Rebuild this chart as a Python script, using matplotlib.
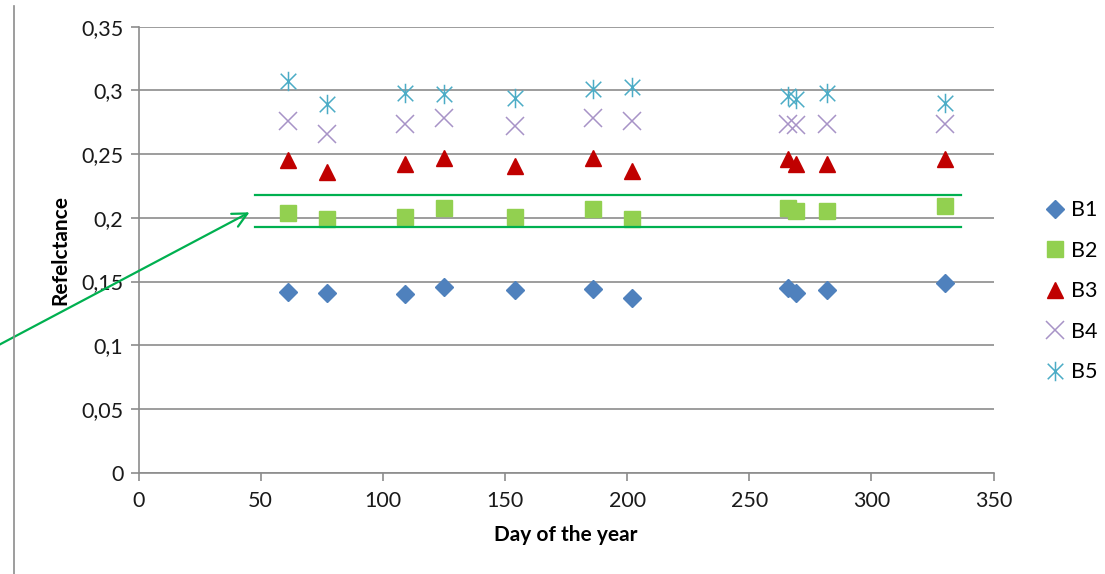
import numpy as np
import matplotlib
matplotlib.use("Agg")
import matplotlib.pyplot as plt
from matplotlib.path import Path
from matplotlib.lines import Line2D

plt.rcParams['font.family'] = ['Lato', 'DejaVu Sans']

# day of year of each acquisition
days = [61, 77, 109, 125, 154, 186, 202, 266, 269, 282, 330]

# reflectance per band
b1 = [0.142, 0.141, 0.140, 0.146, 0.143, 0.144, 0.137, 0.145, 0.141, 0.143, 0.149]
b2 = [0.204, 0.199, 0.201, 0.208, 0.201, 0.207, 0.199, 0.208, 0.205, 0.205, 0.209]
b3 = [0.245, 0.236, 0.242, 0.247, 0.241, 0.247, 0.237, 0.246, 0.242, 0.242, 0.246]
b4 = [0.276, 0.266, 0.274, 0.278, 0.272, 0.278, 0.276, 0.274, 0.273, 0.274, 0.274]
b5 = [0.307, 0.289, 0.298, 0.297, 0.294, 0.301, 0.303, 0.296, 0.293, 0.298, 0.290]

band_names = ['B1', 'B2', 'B3', 'B4', 'B5']
yticks = [0, 0.05, 0.1, 0.15, 0.2, 0.25, 0.3, 0.35]
ytick_labels = ['0', '0,05', '0,1', '0,15', '0,2', '0,25', '0,3', '0,35']
xticks = [0, 50, 100, 150, 200, 250, 300, 350]

# excel style "star" marker: an X with a vertical bar
star = Path([(-1, -1), (1, 1), (-1, 1), (1, -1), (0, -1.25), (0, 1.25)],
            [Path.MOVETO, Path.LINETO, Path.MOVETO, Path.LINETO, Path.MOVETO, Path.LINETO])

fig = plt.figure(figsize=(11.05, 5.74), dpi=100)
ax = fig.add_axes([0.1254, 0.1765, 0.7738, 0.777])

ax.plot(days, b1, ls='none', marker='D', ms=9.5, color='#4F81BD', mec='#4F81BD', label=band_names[0])
ax.plot(days, b2, ls='none', marker='s', ms=11.5, color='#92D050', mec='#92D050', label=band_names[1])
ax.plot(days, b3, ls='none', marker='^', ms=12, color='#C00000', mec='#C00000', label=band_names[2])
ax.plot(days, b4, ls='none', marker='x', ms=13, mew=1.1, color='#A793C7', label=band_names[3])
ax.plot(days, b5, ls='none', marker=star, ms=14, mew=1.1, color='#4BACC6', label=band_names[4])

ax.set_xlim(0, 350)
ax.set_ylim(0, 0.35)
ax.set_xticks(xticks)
ax.set_yticks(yticks)
ax.set_yticklabels(ytick_labels)
ax.yaxis.grid(True, color='#8C8C8C', lw=1.2)
ax.set_axisbelow(True)
for s in ['top', 'right']:
    ax.spines[s].set_visible(False)
for s in ['left', 'bottom']:
    ax.spines[s].set_color('#8C8C8C')
    ax.spines[s].set_linewidth(1.2)
ax.tick_params(axis='both', colors='#8C8C8C', labelcolor='#1a1a1a', labelsize=15.5, length=6, width=1.2)
ax.tick_params(axis='y', pad=5)
ax.tick_params(axis='x', pad=7)

ax.set_xlabel('Day of the year', fontsize=15, fontweight='bold', labelpad=10)
ax.set_ylabel('Refelctance', fontsize=15, fontweight='bold', labelpad=8)

ax.legend(loc='upper left', bbox_to_anchor=(0.938, 0.666), bbox_transform=fig.transFigure,
          frameon=False, fontsize=15.5, handlelength=0.9, handletextpad=0.3, labelspacing=0.95,
          borderaxespad=0)

# green highlight band around B2
ax.plot([47.5, 336.5], [0.218, 0.218], color='#00B050', lw=1.6, clip_on=False)
ax.plot([47.5, 336.5], [0.1928, 0.1928], color='#00B050', lw=1.6, clip_on=False)
ax.annotate('', xy=(252 / 1105, 1 - 211 / 574), xycoords='figure fraction',
            xytext=(-5 / 1105, 1 - 347 / 574), textcoords='figure fraction',
            arrowprops=dict(arrowstyle='->', color='#00B050', lw=1.6, mutation_scale=26))

# frame edge at the left of the picture
fig.add_artist(Line2D([13.5 / 1105, 13.5 / 1105], [0, 1 - 6 / 574], color='#8C8C8C', lw=1.2))

plt.savefig('out.png', dpi=100)
